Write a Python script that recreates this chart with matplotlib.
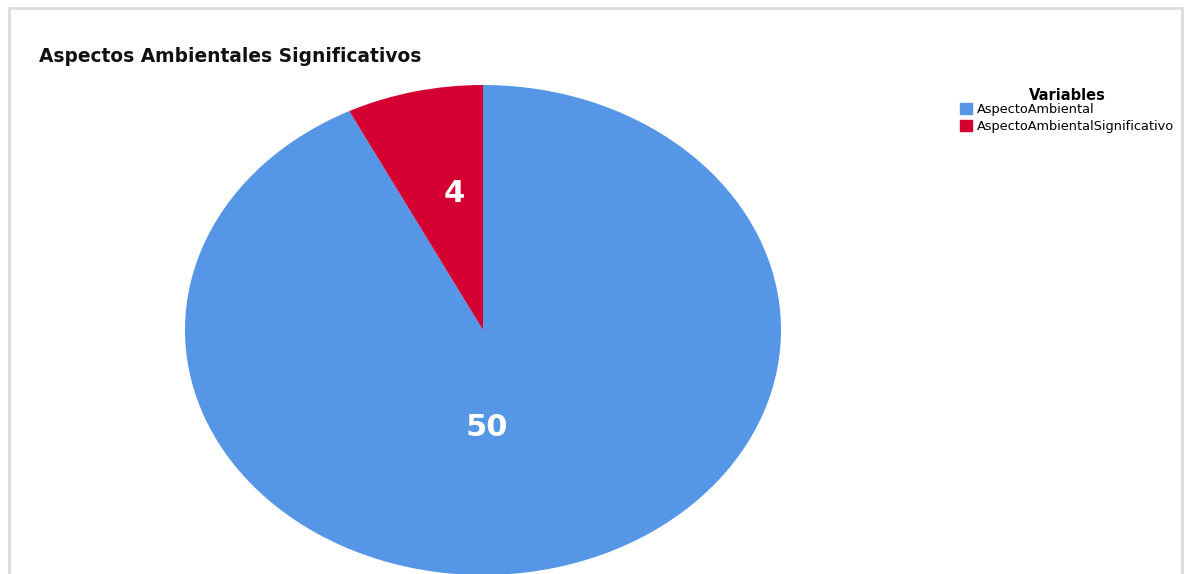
import matplotlib
matplotlib.use("Agg")
import matplotlib.pyplot as plt
from matplotlib.patches import Patch
from matplotlib.lines import Line2D

plt.rcParams['font.family'] = ['DejaVu Sans']

title = "Aspectos Ambientales Significativos"
legend_title = "Variables"
categories = ["AspectoAmbiental", "AspectoAmbientalSignificativo"]
values = [50, 4]
colors = ["#5596E6", "#D50032"]

W, H = 1184, 574
fig = plt.figure(figsize=(W / 100, H / 100), dpi=100)

# frame
fx = lambda px: px / W
fy = lambda py: 1 - py / H
fig.add_artist(Line2D([fx(8.5), fx(8.5)], [fy(8), 0], color="#dcdcdc", lw=2))
fig.add_artist(Line2D([fx(8.5), fx(1182)], [fy(8), fy(8)], color="#dcdcdc", lw=2))
fig.add_artist(Line2D([fx(1182), fx(1182)], [fy(8), 0], color="#dcdcdc", lw=2))

# pie axes (elliptical)
cx, cy, rx, ry = 483, 330, 298, 245
ax = fig.add_axes([fx(cx - rx), fy(cy + ry), 2 * rx / W, 2 * ry / H])
wedges, _ = ax.pie(values, colors=colors, startangle=90, counterclock=False,
                   radius=1, wedgeprops=dict(linewidth=0))
ax.set_xlim(-1, 1)
ax.set_ylim(-1, 1)
ax.set_aspect('auto')
ax.axis('off')

label_pos = [(0.013, -0.396), (-0.097, 0.559)]
for v, (lx, ly) in zip(values, label_pos):
    ax.text(lx, ly, str(v), color="white", fontsize=22, fontweight="bold",
            ha="center", va="center")

fig.text(fx(39), fy(57), title, fontsize=13.4, fontweight="bold",
         ha="left", va="center", color="#111111")

handles = [Patch(facecolor=c, edgecolor=c) for c in colors]
leg = fig.legend(handles, categories, title=legend_title, loc="upper left",
                 bbox_to_anchor=(fx(960), fy(88)), frameon=False,
                 fontsize=9.3, title_fontproperties=dict(weight="bold", size=10.5),
                 handlelength=0.95, handleheight=0.95, handletextpad=0.35,
                 labelspacing=0.3, borderpad=0, borderaxespad=0)
leg._legend_box.align = "center"
leg._legend_box.sep = 0

fig.savefig("out.png", dpi=100)
